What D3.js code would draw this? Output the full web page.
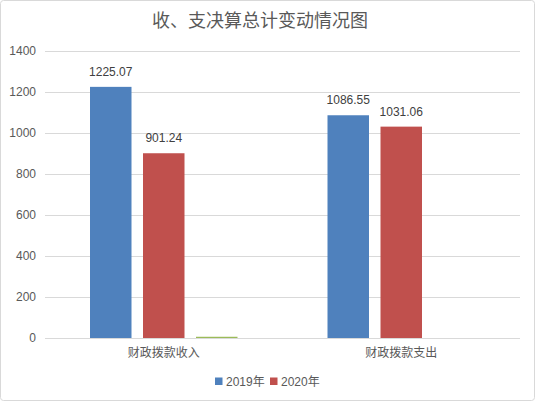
<!DOCTYPE html>
<html><head><meta charset="utf-8">
<script src="https://cdn.jsdelivr.net/npm/d3@7"></script>
<style>body{margin:0;background:#fff}svg{display:block}text{font-family:"Liberation Sans","Noto Sans CJK SC",sans-serif}</style>
</head><body><svg id="c" width="535" height="401"></svg>
<script>
const categories = ["财政拨款收入", "财政拨款支出"];
const seriesNames = ["2019年", "2020年", ""];
const values2019 = [1225.07, 1086.55];
const values2020 = [901.24, 1031.06];
const valuesOther = [6, 0];
const yTicks = [0, 200, 400, 600, 800, 1000, 1200, 1400];
const colors = ["#4f81bd", "#c0504d", "#9bbb59"];
const seriesValues = [values2019, values2020, valuesOther];
const showLabels = [true, true, false];

const svg = d3.select("#c");
svg.append("rect").attr("x",0.5).attr("y",0.5).attr("width",534).attr("height",400)
  .attr("rx",3).attr("fill","#fff").attr("stroke","#d9d9d9");

svg.append("text").attr("x",260).attr("y",27).attr("text-anchor","middle")
  .attr("font-size",18).attr("fill","#595959").text("收、支决算总计变动情况图");

const plotL=45, plotR=520, plotT=51, plotB=338;
const y = d3.scaleLinear().domain([0,1400]).range([plotB, plotT]);
const x0 = d3.scaleBand().domain(categories).range([plotL,plotR]).padding(0);
const x1 = d3.scaleBand().domain(d3.range(seriesNames.length)).range([45, x0.bandwidth()-45]).paddingInner(0.217).paddingOuter(0);

const grid = svg.append("g");
grid.selectAll("line").data(yTicks).join("line")
  .attr("x1",plotL).attr("x2",plotR).attr("y1",d=>Math.round(y(d))+0.5).attr("y2",d=>Math.round(y(d))+0.5)
  .attr("stroke","#d9d9d9").attr("stroke-width",1);
svg.append("g").selectAll("text").data(yTicks).join("text")
  .attr("x",36).attr("y",d=>y(d)+4).attr("text-anchor","end").attr("font-size",12).attr("fill","#595959").text(d=>d);

const groups = svg.append("g").selectAll("g").data(categories).join("g")
  .attr("transform",d=>`translate(${x0(d)},0)`);
groups.each(function(cat, ci){
  const g = d3.select(this);
  seriesValues.forEach((vals, si)=>{
    const v = vals[ci];
    if(!v) return;
    g.append("rect").attr("x",x1(si)).attr("width",x1.bandwidth())
      .attr("y",y(v)).attr("height",plotB-y(v)).attr("fill",colors[si]);
    if(showLabels[si]){
      g.append("text").attr("x",x1(si)+x1.bandwidth()/2).attr("y",y(v)-11)
        .attr("text-anchor","middle").attr("font-size",12).attr("fill","#404040").text(v.toFixed(2));
    }
  });
});

svg.append("g").selectAll("text").data(categories).join("text")
  .attr("x",d=>x0(d)+x0.bandwidth()/2).attr("y",357).attr("text-anchor","middle")
  .attr("font-size",12).attr("fill","#595959").text(d=>d);

const legendItems = [{n:seriesNames[0],c:colors[0],x:215},{n:seriesNames[1],c:colors[1],x:270}];
const lg = svg.append("g");
legendItems.forEach(it=>{
  lg.append("rect").attr("x",it.x).attr("y",377.5).attr("width",7.5).attr("height",7.5).attr("fill",it.c);
  lg.append("text").attr("x",it.x+11).attr("y",385.5).attr("font-size",12).attr("fill","#595959").text(it.n);
});
</script></body></html>
